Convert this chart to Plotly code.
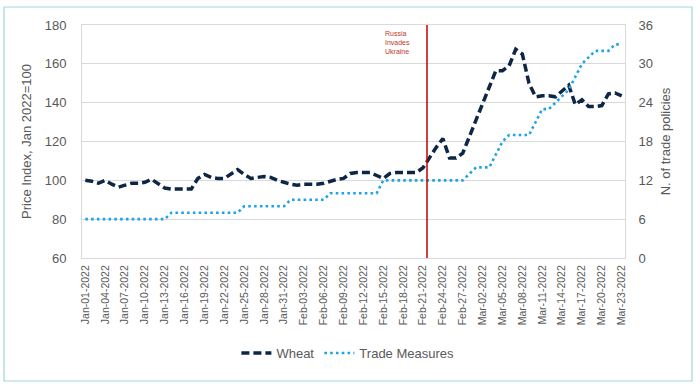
import pandas as pd
import plotly.graph_objects as go

# ---- data ----
dates = [d.strftime("%b-%d-%Y") for d in pd.date_range("2022-01-01", "2022-03-23", freq="D")]
wheat = [100, 99.5, 98.5, 100, 98, 96.5, 97.5, 98.5, 98.5, 99,
         100.5, 98, 96, 95.5, 95.5, 95.5, 95.5, 101, 103, 101.5,
         101, 101, 103, 105.5, 103, 101, 101.5, 102, 101.5, 100,
         99, 98, 97.5, 98, 98, 98, 98.5, 99.5, 100.5, 101,
         103.5, 104, 104, 104, 102.5, 101, 103.5, 104, 104, 104,
         104, 106.5, 112, 117, 121.5, 111.5, 111.5, 114, 122.5, 131,
         139.5, 148, 156.5, 156.5, 159, 167.5, 165, 150, 143, 143.5,
         143.5, 143, 146, 149, 139, 141.5, 138, 138, 138.5, 144.5,
         145, 143.5]
trade = ([6] * 13 + [7] * 11 + [8] * 7 + [9] * 6 + [10] * 8 + [12] * 13 +
         [13, 14, 14, 14, 16, 18, 19, 19, 19, 19,
          21, 23, 23, 24, 25, 26, 28, 30, 31, 32, 32, 32, 33, 33])
tick_labels = dates[::3]
event_text = "Russia<br>Invades<br>Ukraine"
event_pos = 51.6

FONT = "Liberation Sans, Arial, sans-serif"
GRAY = "#595959"

fig = go.Figure()
fig.add_trace(go.Scatter(
    x=dates, y=wheat, name="Wheat", mode="lines",
    line=dict(color="#0d2646", width=3.5, dash="8px,4px"),
    yaxis="y"))
fig.add_trace(go.Scatter(
    x=dates, y=trade, name="Trade Measures", mode="lines",
    line=dict(color="#1ea3e6", width=2.6, dash="2.6px,3.2px"),
    yaxis="y2"))

fig.update_layout(
    width=700, height=387,
    margin=dict(l=82, r=75, t=25, b=129, autoexpand=False),
    paper_bgcolor="white", plot_bgcolor="white",
    font=dict(family=FONT, color=GRAY, size=13),
    showlegend=True,
    legend=dict(orientation="h", xref="container", yref="container",
                x=0.497, xanchor="center", y=1 - 353 / 387, yanchor="middle",
                font=dict(size=13, color=GRAY), itemwidth=30,
                tracegroupgap=0),
    xaxis=dict(type="category", categoryorder="array", categoryarray=dates,
               range=[-0.5, len(dates) - 0.5], automargin=False,
               tickmode="array", tickvals=tick_labels, ticktext=tick_labels,
               tickangle=-90, tickfont=dict(size=10.5, color=GRAY),
               showgrid=False, showline=True, linecolor="#d9d9d9", linewidth=1,
               mirror=True, ticks="", ticklabelstandoff=2),
    yaxis=dict(range=[60, 180], dtick=20, tick0=60, automargin=False,
               showgrid=True, gridcolor="#d9d9d9", gridwidth=1,
               showline=True, linecolor="#d9d9d9", zeroline=False,
               tickfont=dict(size=13, color=GRAY), ticklabelstandoff=12,
               title=dict(text="Price Index, Jan 2022=100", font=dict(size=13, color=GRAY),
                          standoff=10)),
    yaxis2=dict(range=[0, 36], dtick=6, tick0=0, overlaying="y", side="right",
                automargin=False,
                showgrid=False, showline=True, linecolor="#d9d9d9", zeroline=False,
                tickfont=dict(size=13, color=GRAY), ticklabelstandoff=10,
                title=dict(text="N. of trade policies", font=dict(size=13, color=GRAY),
                           standoff=8)),
)

fig.add_shape(type="line", xref="x", yref="paper", x0=event_pos, x1=event_pos,
              y0=0, y1=1, line=dict(color="#c00000", width=1.5))
fig.add_annotation(text=event_text, xref="x", yref="paper", x=45.0, y=0.985,
                   xanchor="left", yanchor="top", align="left", showarrow=False,
                   font=dict(size=7, color="#c0392b", family=FONT))

# outer border
fig.add_shape(type="rect", xref="paper", yref="paper",
              x0=(4 - 82) / 543, x1=(692 - 82) / 543,
              y0=(258 - 381) / 233, y1=(258 - 7) / 233,
              line=dict(color="#9fd8dc", width=1.2), fillcolor="rgba(0,0,0,0)")

fig.write_html("out.html", config={"displayModeBar": False},
               post_script="document.body.style.margin='0';document.body.style.padding='0';")
